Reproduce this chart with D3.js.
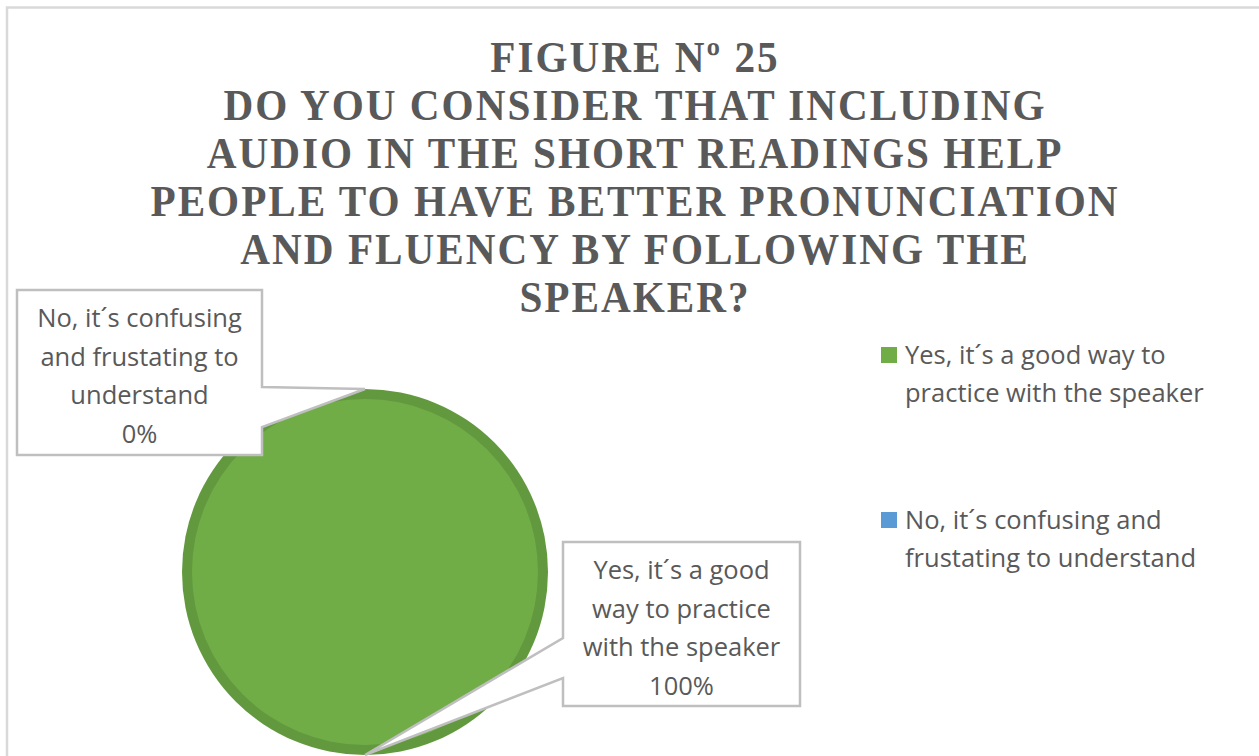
<!DOCTYPE html>
<html>
<head>
<meta charset="utf-8">
<script src="https://cdn.jsdelivr.net/npm/d3@7"></script>
<style>
  body { margin: 0; background: #fff; }
</style>
</head>
<body>
<div id="container"></div>
<script>
/* CONSTANTS AND GLOBALS */
const width = 1259,
  height = 756,
  pieCenter = { x: 365, y: 572 },
  radius = 183,
  rim = 10,
  colors = { yes: '#70AD47', no: '#5B9BD5', yesRim: '#62993E', text: '#595959' }

/* DATA */
const categories = ["Yes, it´s a good way to practice with the speaker", "No, it´s confusing and frustating to understand"]
const values = [100, 0]
const percentLabels = ["100%", "0%"]
const titleLines = [
  "FIGURE Nº 25",
  "DO YOU CONSIDER THAT INCLUDING",
  "AUDIO IN THE SHORT READINGS HELP",
  "PEOPLE TO HAVE BETTER PRONUNCIATION",
  "AND FLUENCY BY FOLLOWING THE",
  "SPEAKER?"
]
const calloutLines = [
  ["Yes, it´s a good", "way to practice", "with the speaker"],
  ["No, it´s confusing", "and frustating to", "understand"]
]
const legendLines = [
  ["Yes, it´s a good way to", "practice with the speaker"],
  ["No, it´s confusing and", "frustating to understand"]
]

const data = categories.map((c, i) => ({ category: c, value: values[i], pct: percentLabels[i], callout: calloutLines[i], legend: legendLines[i] }))

const svg = d3.select("#container")
  .append("svg")
  .attr("width", width)
  .attr("height", height)

// chart area border (top and left edges visible)
svg.append("rect")
  .attr("x", 7)
  .attr("y", 7.5)
  .attr("width", 1300)
  .attr("height", 800)
  .attr("fill", "#fff")
  .attr("stroke", "#d9d9d9")
  .attr("stroke-width", 2.5)

/* TITLE */
const title = svg.append("g")
  .attr("transform", "translate(635,0)")
title.selectAll("text")
  .data(titleLines)
  .join("text")
  .attr("transform", (d, i) => `translate(0,${72 + i * 48}) scale(1.33,1.4)`)
  .attr("text-anchor", "middle")
  .attr("font-family", "'Liberation Serif', serif")
  .attr("font-weight", "bold")
  .attr("font-size", "31px")
  .attr("letter-spacing", "1.5px")
  .attr("fill", colors.text)
  .text(d => d)

/* PIE */
const colorScale = d3.scaleOrdinal()
  .domain(categories)
  .range([colors.yes, colors.no])
const rimScale = d3.scaleOrdinal()
  .domain(categories)
  .range([colors.yesRim, '#4F88BC'])

const pie = d3.pie().sort(null).value(d => d.value)
const arcs = pie(data)
const outerArc = d3.arc().innerRadius(0).outerRadius(radius)
const innerArc = d3.arc().innerRadius(0).outerRadius(radius - rim)

const pieG = svg.append("g")
  .attr("transform", `translate(${pieCenter.x},${pieCenter.y})`)
pieG.selectAll("path.rim")
  .data(arcs)
  .join("path")
  .attr("class", "rim")
  .attr("d", outerArc)
  .attr("fill", d => rimScale(d.data.category))
pieG.selectAll("path.slice")
  .data(arcs)
  .join("path")
  .attr("class", "slice")
  .attr("d", innerArc)
  .attr("fill", d => colorScale(d.data.category))

/* CALLOUTS */
const boxes = [
  { x: 563, y: 542, w: 237, h: 164, anchorY: [638, 678], side: "left" },
  { x: 17, y: 290, w: 245, h: 165, anchorY: [387, 427], side: "right" }
]

arcs.forEach((a, i) => {
  const mid = (a.startAngle + a.endAngle) / 2
  const tip = [pieCenter.x + Math.sin(mid) * radius, pieCenter.y - Math.cos(mid) * radius]
  const b = boxes[i]
  const ex = b.side === "left" ? b.x : b.x + b.w
  let pts
  if (b.side === "left") {
    pts = [[b.x, b.y], [b.x + b.w, b.y], [b.x + b.w, b.y + b.h], [b.x, b.y + b.h], [ex, b.anchorY[1]], tip, [ex, b.anchorY[0]]]
  } else {
    pts = [[b.x, b.y], [b.x + b.w, b.y], [ex, b.anchorY[0]], tip, [ex, b.anchorY[1]], [b.x + b.w, b.y + b.h], [b.x, b.y + b.h]]
  }
  svg.append("path")
    .attr("d", d3.line()(pts) + "Z")
    .attr("fill", "#fff")
    .attr("stroke", "#bfbfbf")
    .attr("stroke-width", 2.5)
    .attr("stroke-linejoin", "miter")

  const lines = a.data.callout.concat([a.data.pct])
  svg.append("g")
    .selectAll("text")
    .data(lines)
    .join("text")
    .attr("x", b.x + b.w / 2)
    .attr("y", (d, j) => b.y + 37 + j * 38.5)
    .attr("text-anchor", "middle")
    .attr("font-family", "'Open Sans', sans-serif")
    .attr("font-size", "25.5px")
    .attr("fill", colors.text)
    .text(d => d)
})

/* LEGEND */
const legend = svg.append("g")
  .selectAll("g")
  .data(data)
  .join("g")
  .attr("transform", (d, i) => `translate(881,${347 + i * 165})`)
legend.append("rect")
  .attr("width", 16)
  .attr("height", 16)
  .attr("fill", d => colorScale(d.category))
legend.selectAll("text")
  .data(d => d.legend)
  .join("text")
  .attr("x", 24)
  .attr("y", (d, j) => 17 + j * 38)
  .attr("font-family", "'Open Sans', sans-serif")
  .attr("font-size", "25.5px")
  .attr("fill", colors.text)
  .text(d => d)
</script>
</body>
</html>
